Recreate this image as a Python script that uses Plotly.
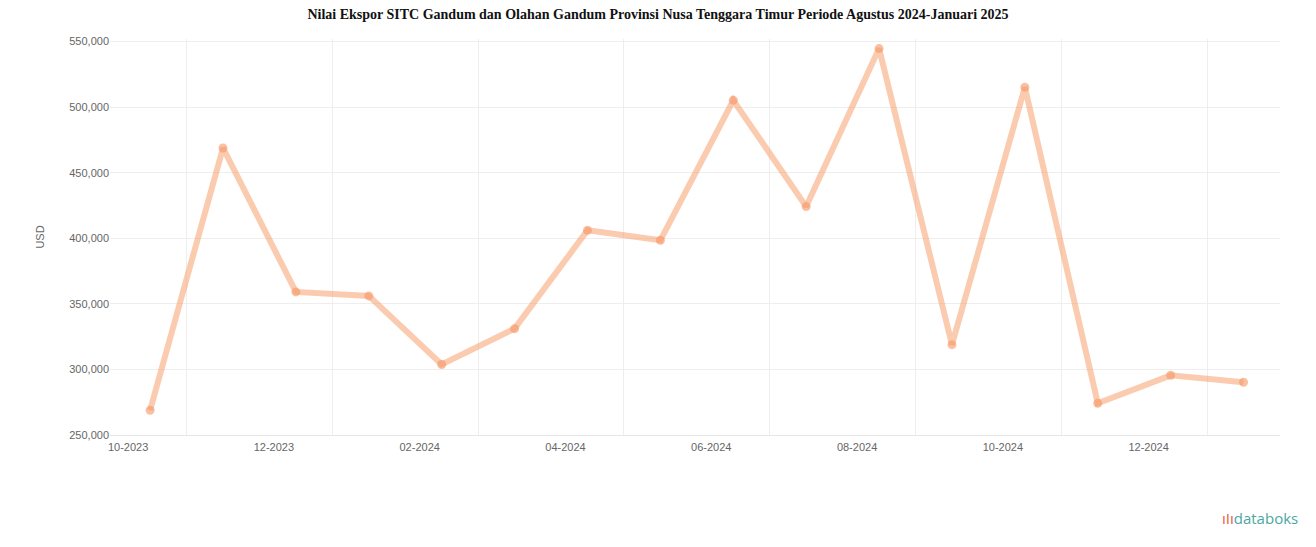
import plotly.graph_objects as go

months = ["10-2023", "11-2023", "12-2023", "01-2024", "02-2024", "03-2024", "04-2024", "05-2024",
          "06-2024", "07-2024", "08-2024", "09-2024", "10-2024", "11-2024", "12-2024", "01-2025"]
values = [268900, 468900, 359100, 356100, 303800, 331100, 406100, 398500,
          505300, 424200, 544700, 318900, 515200, 274200, 295500, 290200]
tick_labels = ["10-2023", "12-2023", "02-2024", "04-2024", "06-2024", "08-2024", "10-2024", "12-2024"]
y_ticks = [250000, 300000, 350000, 400000, 450000, 500000, 550000]

x = list(range(len(months)))

fig = go.Figure()
fig.add_trace(go.Scatter(
    x=x, y=values, mode="lines+markers",
    line=dict(color="rgba(247,160,110,0.55)", width=6),
    marker=dict(color="rgba(247,150,100,0.6)", size=9),
    text=months, hovertemplate="%{text}: %{y:,}<extra></extra>",
))

fig.update_layout(
    width=1300, height=531,
    paper_bgcolor="white", plot_bgcolor="white",
    margin=dict(l=102, r=28, t=31, b=104),
    showlegend=False,
    title=dict(
        text="<b>Nilai Ekspor SITC Gandum dan Olahan Gandum Provinsi Nusa Tenggara Timur Periode Agustus 2024-Januari 2025</b>",
        x=0.5, xanchor="center", y=0.997, yanchor="top",
        font=dict(family="Liberation Serif", size=14, color="#111"),
    ),
    font=dict(family="Liberation Sans", size=12, color="#666"),
)
fig.update_xaxes(
    range=[-0.55, 15.5],
    tickmode="array", tickvals=x[::2], ticktext=tick_labels,
    showgrid=False, zeroline=False,
    showline=True, linecolor="#e6e6e6",
    ticks="", ticklabelshift=-22, ticklabelstandoff=2,
    tickfont=dict(size=11, color="#666"),
    minor=dict(tick0=0.5, dtick=2, showgrid=True, gridcolor="#eeeeee", gridwidth=1),
)
fig.update_yaxes(
    range=[250000, 552000],
    tickmode="array", tickvals=y_ticks,
    tickformat=",", showgrid=True, gridcolor="#eeeeee",
    zeroline=False, showline=False, ticks="",
    tickfont=dict(size=11, color="#666"),
    title=dict(text="USD", font=dict(size=11, color="#666"), standoff=22),
)

fig.add_annotation(
    text="<span style='color:#e8603c'>ıIı</span><span style='color:#4aa8a0'>databoks</span>",
    xref="paper", yref="paper", x=1.017, y=-0.21, xanchor="right", yanchor="middle",
    showarrow=False, font=dict(family="Open Sans", size=15),
)

fig.write_html("out.html")
